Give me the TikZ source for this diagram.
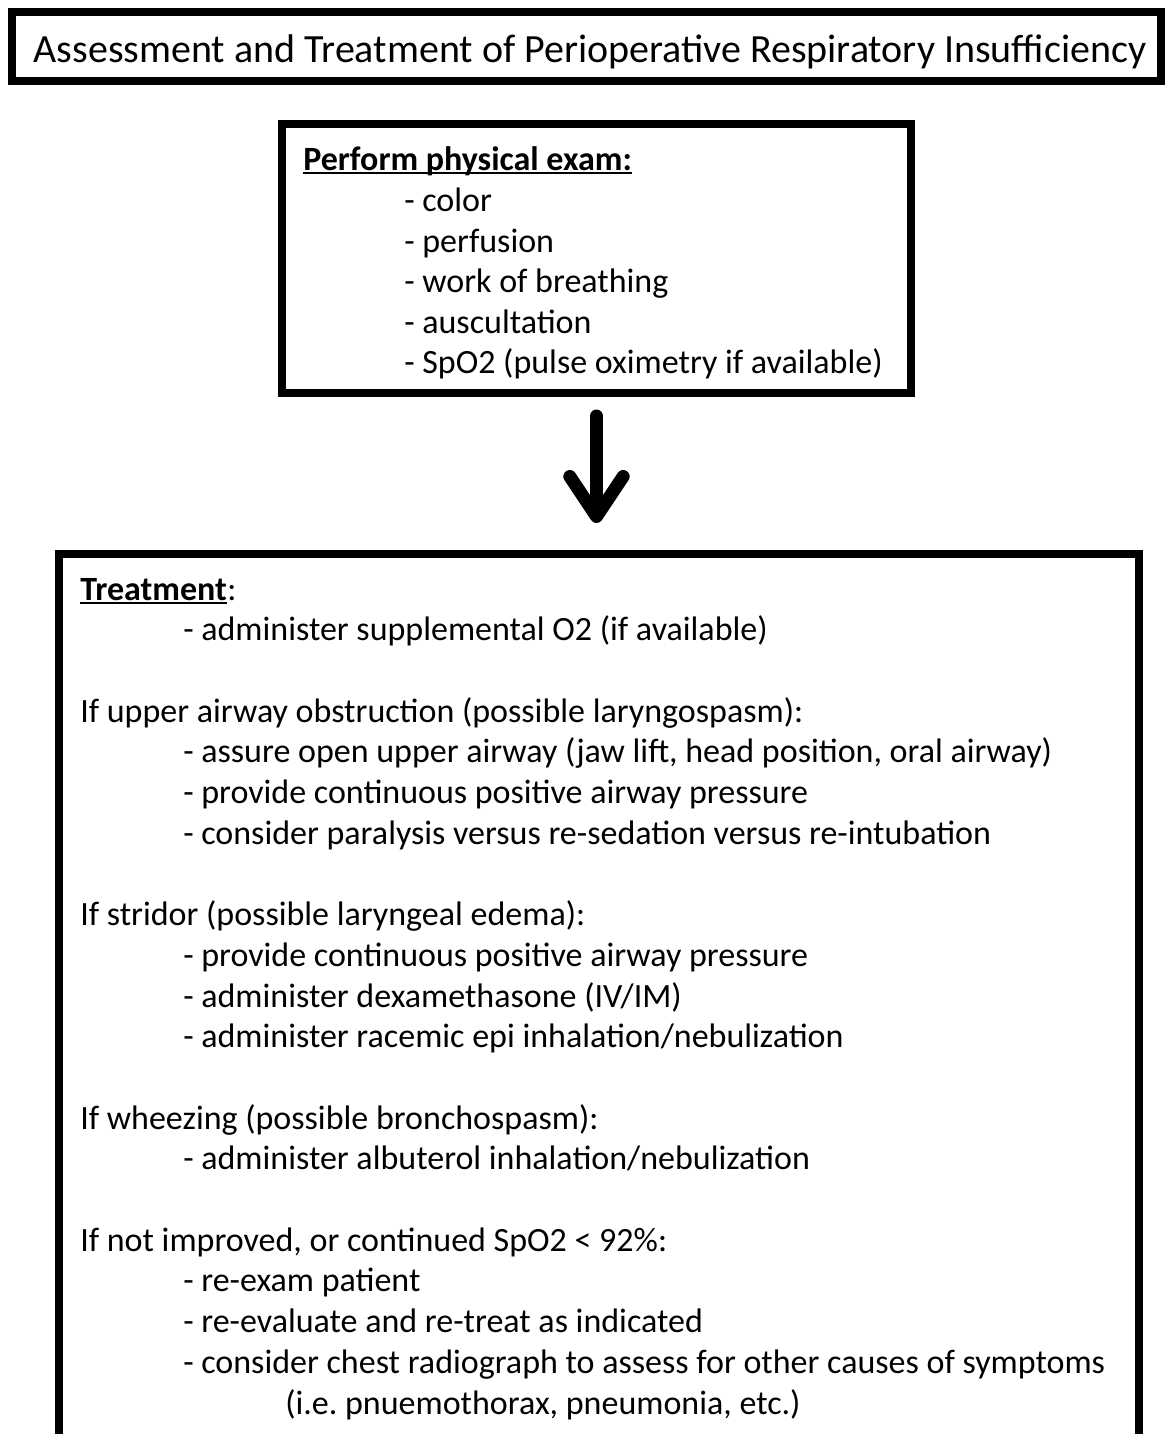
\documentclass[tikz,border=0pt]{standalone}
\usepackage{fontspec}
\setmainfont{Carlito}
\usetikzlibrary{arrows.meta, positioning}

\newdimen\px \px=0.75pt
\frenchspacing

\begin{document}
\begin{tikzpicture}[
        x=0.75pt, y=-0.75pt,
        box/.style = {rectangle, draw=black, line width=8\px, inner sep=0pt},
        txt/.style = {anchor=base west, inner sep=0pt, font=\fontsize{25.5}{30}\selectfont},
        uline/.style = {line width=2\px},
        bigarrow/.style = {line width=13\px, line cap=round, -{Straight Barb[length=30pt, width=40pt, round]}}
    ]
    \useasboundingbox (0,0) rectangle (1170,1434);

    % title
    \node [box, minimum width=1149\px, minimum height=69\px] (title) at (586.5,46.5) {};
    \node [inner sep=0pt, anchor=base, font=\fontsize{30}{36}\selectfont] (titletext) at (590,63)
        {Assessment and Treatment of Perioperative Respiratory Insufficiency};

    % physical exam
    \node [box, minimum width=629\px, minimum height=269\px] (exam) at (596.5,258.5) {};
    \node [txt] (ex0) at (303,171) {\textbf{Perform physical exam:}};
    \draw [uline] ([yshift=-2.5\px]ex0.base west) -- ([yshift=-2.5\px]ex0.base east);
    \node [txt] (ex1) at (404,211.5) {- color};
    \node [txt] (ex2) at (404,252) {- perfusion};
    \node [txt] (ex3) at (404,292.5) {- work of breathing};
    \node [txt] (ex4) at (404,333) {- auscultation};
    \node [txt] (ex5) at (404,373.5) {- SpO2 (pulse oximetry if available)};

    % treatment
    \node [box, minimum width=1080\px, minimum height=900\px] (treat) at (599,1004) {};
    \node [txt] (tr0) at (80,600) {\textbf{Treatment}};
    \node [txt] (tr0c) at (tr0.base east) {:};
    \draw [uline] ([yshift=-2.5\px]tr0.base west) -- ([yshift=-2.5\px]tr0.base east);
    \node [txt] (tr1) at (183,640.7) {- administer supplemental O2 (if available)};

    \node [txt] (tr3) at (80,722.1) {If upper airway obstruction (possible laryngospasm):};
    \node [txt] (tr4) at (183,762.8) {- assure open upper airway (jaw lift, head position, oral airway)};
    \node [txt] (tr5) at (183,803.5) {- provide continuous positive airway pressure};
    \node [txt] (tr6) at (183,844.2) {- consider paralysis versus re-sedation versus re-intubation};

    \node [txt] (tr8) at (80,925.6) {If stridor (possible laryngeal edema):};
    \node [txt] (tr9) at (183,966.3) {- provide continuous positive airway pressure};
    \node [txt] (tr10) at (183,1007) {- administer dexamethasone (IV/IM)};
    \node [txt] (tr11) at (183,1047.7) {- administer racemic epi inhalation/nebulization};

    \node [txt] (tr13) at (80,1129.1) {If wheezing (possible bronchospasm):};
    \node [txt] (tr14) at (183,1169.8) {- administer albuterol inhalation/nebulization};

    \node [txt] (tr16) at (80,1251.2) {If not improved, or continued SpO2 < 92\%:};
    \node [txt] (tr17) at (183,1291.9) {- re-exam patient};
    \node [txt] (tr18) at (183,1332.6) {- re-evaluate and re-treat as indicated};
    \node [txt] (tr19) at (183,1373.3) {- consider chest radiograph to assess for other causes of symptoms};
    \node [txt] (tr20) at (285,1414) {(i.e. pnuemothorax, pneumonia, etc.)};

    \draw [bigarrow] ([yshift=-19\px]exam.south) -- ([yshift=27\px]exam.south |- treat.north);
\end{tikzpicture}
\end{document}
